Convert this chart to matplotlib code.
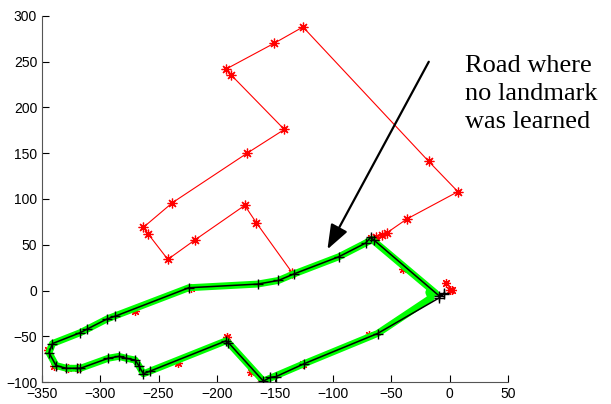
import matplotlib
matplotlib.use("Agg")
import matplotlib.pyplot as plt

# red route of landmarks (road where no landmark was learned)
route_x = [-63, -58, -54, -37, 7, -18, -126, -151, -192, -188, -142, -174, -238, -263, -259, -242, -219, -176, -166, -135]
route_y = [58, 61, 63, 78, 108, 141, 288, 270, 242, 236, 176, 150, 96, 69, 62, 34, 55, 93, 74, 19]

# red landmark stars scattered along the driven road
land_x = [-345, -340, -328, -319, -270, -222, -233, -171, -191, -162, -126, -69, -40, -3, 0, 2, -68]
land_y = [-65, -82, -85, -85, -22, 3, -79, -89, -51, -100, -80, -49, 24, 8, 1, 1, 57]

# green reference path
gps_x = [-18, -16, -62, -125, -160, -190, -192, -257, -263, -267, -270, -278, -284, -293, -317, -329, -338, -344,
         -341, -317, -294, -224, -165, -147, -134, -95, -72, -67, -12]
gps_y = [-2, -8, -47, -80, -99, -57, -55, -88, -91, -82, -76, -74, -72, -74, -85, -85, -82, -68,
         -58, -46, -31, 3, 7, 11, 18, 37, 52, 56, -3]

# black estimated path with + markers
est_x = [-5, -9, -62, -125, -149, -154, -160, -190, -192, -257, -263, -267, -270, -278, -284, -293, -317, -320,
         -329, -338, -344, -341, -317, -311, -294, -287, -224, -165, -147, -134, -95, -72, -68, -65, -9, -5]
est_y = [-3, -8, -47, -80, -94, -95, -99, -57, -55, -88, -91, -82, -76, -74, -72, -74, -85, -85,
         -85, -82, -68, -58, -46, -42, -31, -28, 3, 7, 11, 18, 37, 52, 58, 55, -6, -4]

label = "Road where\nno landmark\nwas learned"

plt.rcParams['font.family'] = 'Liberation Sans'
fig = plt.figure(figsize=(6.11, 4.04), dpi=100)
ax = fig.add_axes([42 / 611, 1 - 382 / 404, (508 - 42) / 611, (382 - 16) / 404])

asterisk = (8, 2, 0)
ax.plot(route_x, route_y, '-', color='red', lw=0.8, marker=asterisk, ms=7, mew=0.9, zorder=2)
ax.plot(land_x, land_y, ls='none', color='red', marker=asterisk, ms=6.5, mew=0.9, zorder=2)
ax.plot(gps_x, gps_y, '-', color='#00ff00', lw=5, solid_capstyle='round', solid_joinstyle='round', zorder=3)
ax.plot(est_x, est_y, '-', color='black', lw=1.1, marker='+', ms=7.5, mew=1.0, zorder=4)

ax.annotate('', xy=(-105, 45), xytext=(-18, 250),
            arrowprops=dict(arrowstyle='-|>,head_length=0.75,head_width=0.28', color='black',
                            lw=1.6, mutation_scale=20, shrinkA=0, shrinkB=0))

fig.text(465 / 611, 1 - 55 / 404, label, fontfamily='Liberation Serif', fontsize=19,
         va='top', ha='left', linespacing=1.36)

ax.set_xlim(-350, 50)
ax.set_ylim(-100, 300)
ax.set_xticks(range(-350, 51, 50))
ax.set_yticks(range(-100, 301, 50))
ax.spines['top'].set_visible(False)
ax.spines['right'].set_visible(False)
for s in ['left', 'bottom']:
    ax.spines[s].set_color('#555555')
ax.tick_params(direction='in', length=5, labelsize=10, colors='black')

fig.savefig('out.png', dpi=100)
